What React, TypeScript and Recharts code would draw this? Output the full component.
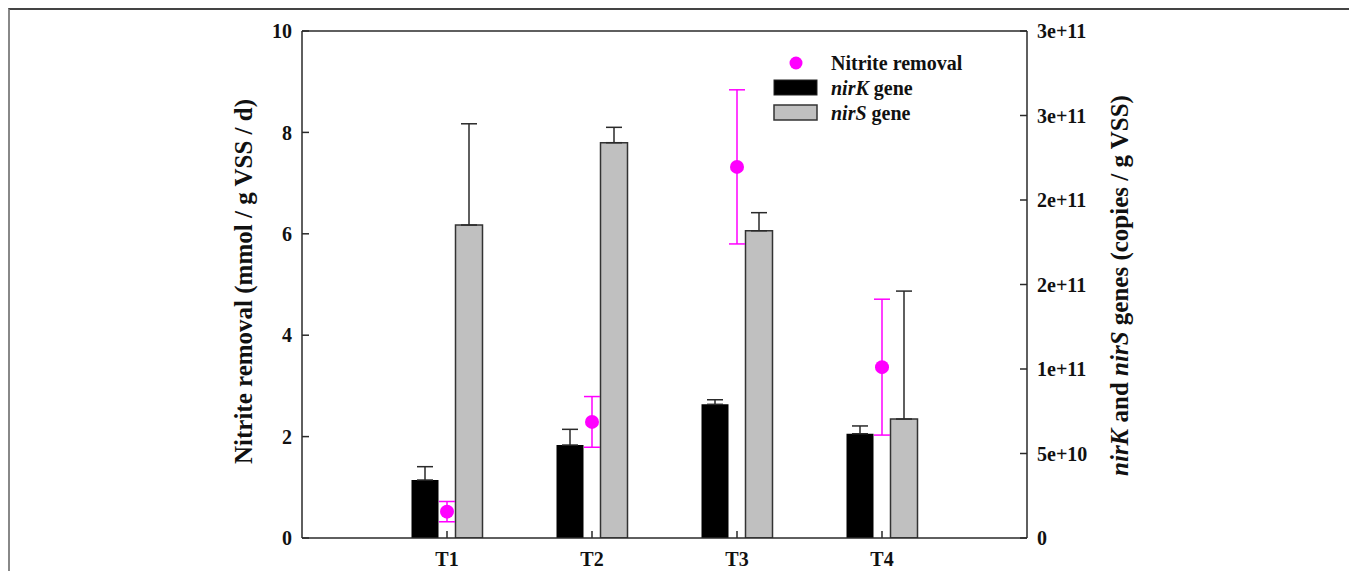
import React from "react";
import { ComposedChart, Bar, Line, XAxis, YAxis, ErrorBar, ReferenceLine, Legend } from "recharts";

const categories = ["T1", "T2", "T3", "T4"];
const nitriteRemoval = [0.52, 2.29, 7.32, 3.37];
const nitriteErr = [0.2, 0.5, 1.52, 1.34];
const nirK = [3.43e10, 5.5e10, 7.91e10, 6.17e10];
const nirKErr = [0.79e10, 0.93e10, 0.27e10, 0.46e10];
const nirS = [1.852e11, 2.339e11, 1.818e11, 7.04e10];
const nirSErr = [5.99e10, 0.91e10, 1.07e10, 7.57e10];

const leftTicks = [0, 2, 4, 6, 8, 10];
const rightTicks = [0, 5e10, 1e11, 1.5e11, 2e11, 2.5e11, 3e11];
const rightTickLabels = ["0", "5e+10", "1e+11", "2e+11", "2e+11", "3e+11", "3e+11"];

const data = categories.map((c, i) => ({
  name: c,
  nitrite: nitriteRemoval[i],
  nitriteErr: nitriteErr[i],
  nirK: nirK[i],
  nirKErr: [0, nirKErr[i]],
  nirS: nirS[i],
  nirSErr: [0, nirSErr[i]],
}));

const FONT = "'Liberation Serif', 'Times New Roman', serif";
const AXIS = "#2a2a2a";
const MAGENTA = "#ff00ff";
const GRAY = "#c0c0c0";

const tickStyle = { fontFamily: FONT, fontWeight: 700, fontSize: 20, fill: "#111" };

const LeftTitle = (props: any) => {
  const vb = props.viewBox || { x: 174, y: 21, width: 118, height: 507 };
  const cx = vb.x + vb.width - 50;
  const cy = vb.y + vb.height / 2 - 3;
  return (
    <text
      x={cx}
      y={cy}
      transform={`rotate(-90, ${cx}, ${cy})`}
      textAnchor="middle"
      fontFamily={FONT}
      fontWeight={700}
      fontSize={25}
      fill="#111"
    >
      Nitrite removal (mmol / g VSS / d)
    </text>
  );
};

const RightTitle = (props: any) => {
  const vb = props.viewBox || { x: 1017, y: 21, width: 186, height: 507 };
  const cx = vb.x + 101;
  const cy = vb.y + vb.height / 2 + 1;
  return (
    <text
      x={cx}
      y={cy}
      transform={`rotate(-90, ${cx}, ${cy})`}
      textAnchor="middle"
      fontFamily={FONT}
      fontWeight={700}
      fontSize={25}
      fill="#111"
    >
      <tspan fontStyle="italic">nirK</tspan>
      <tspan> and </tspan>
      <tspan fontStyle="italic">nirS</tspan>
      <tspan> genes (copies / g VSS)</tspan>
    </text>
  );
};

const LegendContent = () => (
  <svg width={230} height={80} style={{ display: "block", overflow: "visible" }}>
    <circle cx={26} cy={13} r={6.5} fill={MAGENTA} />
    <text x={61} y={19.5} fontFamily={FONT} fontWeight={700} fontSize={20} fill="#111">
      Nitrite removal
    </text>
    <rect x={4} y={30} width={43} height={15} fill="#000" stroke="#222" strokeWidth={1} />
    <text x={61} y={44.5} fontFamily={FONT} fontWeight={700} fontSize={20} fill="#111">
      <tspan fontStyle="italic">nirK</tspan>
      <tspan> gene</tspan>
    </text>
    <rect x={4} y={55} width={43} height={15} fill={GRAY} stroke="#333" strokeWidth={1.5} />
    <text x={61} y={69.5} fontFamily={FONT} fontWeight={700} fontSize={20} fill="#111">
      <tspan fontStyle="italic">nirS</tspan>
      <tspan> gene</tspan>
    </text>
  </svg>
);

export default function App() {
  return (
    <div
      style={{
        width: 1341,
        height: 570,
        borderTop: "2px solid #444",
        borderLeft: "2px solid #888",
        borderRight: "2px solid #888",
        borderBottom: "2px solid #888",
        background: "#fff",
      }}
    >
      <style>{"html,body{overflow:hidden}"}</style>
      <ComposedChart
        width={1341}
        height={570}
        data={data}
        margin={{ top: 21, right: 138, bottom: 12, left: 174 }}
        barGap={17}
        barSize={27}
      >
        <XAxis
          dataKey="name"
          type="category"
          padding={{ left: 72.5, right: 72.5 }}
          axisLine={{ stroke: AXIS, strokeWidth: 1.5 }}
          tickLine={{ stroke: AXIS, strokeWidth: 1.5 }}
          tickSize={-7}
          tickMargin={21}
          height={30}
          tick={tickStyle}
          interval={0}
        />
        <YAxis
          yAxisId="left"
          orientation="left"
          domain={[0, 10]}
          ticks={leftTicks}
          width={118}
          axisLine={{ stroke: AXIS, strokeWidth: 1.5 }}
          tickLine={{ stroke: AXIS, strokeWidth: 1.5 }}
          tickSize={-7}
          tickMargin={17}
          tick={tickStyle}
          interval={0}
          allowDataOverflow
          label={{ content: LeftTitle }}
        />
        <YAxis
          yAxisId="right"
          orientation="right"
          domain={[0, 3e11]}
          ticks={rightTicks}
          tickFormatter={(v: number) => rightTickLabels[rightTicks.indexOf(v)] ?? String(v)}
          width={186}
          axisLine={{ stroke: AXIS, strokeWidth: 1.5 }}
          tickLine={{ stroke: AXIS, strokeWidth: 1.5 }}
          tickSize={-7}
          tickMargin={17}
          tick={{ ...tickStyle, textAnchor: "start" }}
          interval={0}
          allowDataOverflow
          label={{ content: RightTitle }}
        />
        <ReferenceLine yAxisId="left" y={10} stroke={AXIS} strokeWidth={1.5} />
        <Legend
          layout="vertical"
          align="center"
          verticalAlign="middle"
          content={LegendContent}
          wrapperStyle={{ top: 40, left: 760, width: 230, height: 80 }}
        />
        <Bar yAxisId="right" dataKey="nirK" fill="#000" isAnimationActive={false}>
          <ErrorBar dataKey="nirKErr" width={8} stroke={AXIS} strokeWidth={1.5} direction="y" />
        </Bar>
        <Bar yAxisId="right" dataKey="nirS" fill={GRAY} stroke="#333" strokeWidth={1.5} isAnimationActive={false}>
          <ErrorBar dataKey="nirSErr" width={8} stroke={AXIS} strokeWidth={1.5} direction="y" />
        </Bar>
        <Line
          yAxisId="left"
          dataKey="nitrite"
          stroke="none"
          strokeWidth={0}
          dot={{ r: 7, fill: MAGENTA, stroke: "none", strokeWidth: 0 }}
          activeDot={false}
          isAnimationActive={false}
          legendType="none"
        >
          <ErrorBar dataKey="nitriteErr" width={8} stroke={MAGENTA} strokeWidth={1.5} direction="y" />
        </Line>
      </ComposedChart>
    </div>
  );
}
